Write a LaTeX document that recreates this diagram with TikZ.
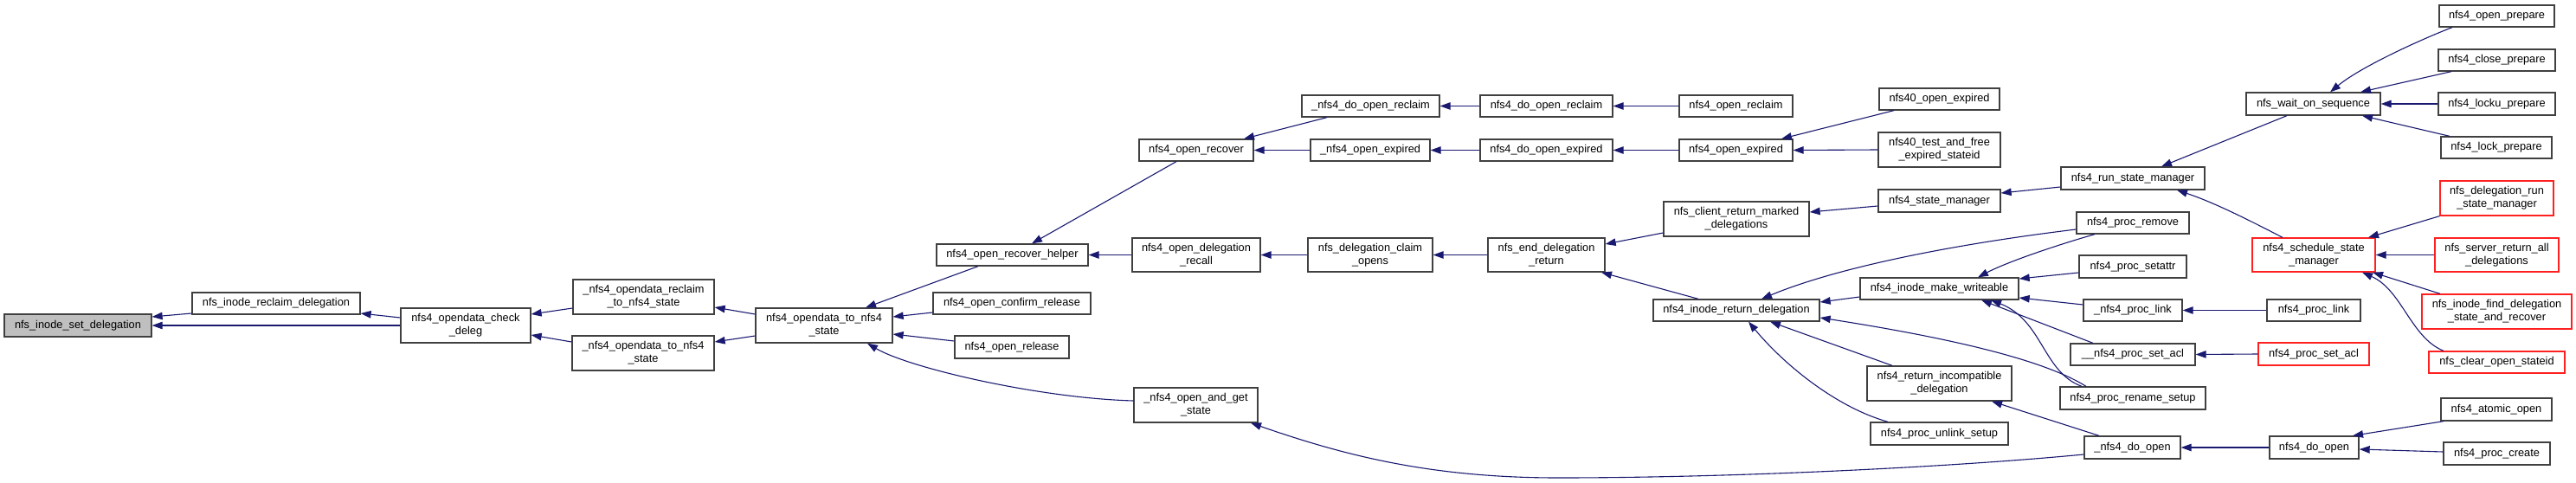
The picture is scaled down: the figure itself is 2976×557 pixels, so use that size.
\documentclass[tikz,border=0pt]{standalone}
\usepackage{fontspec}
\setmainfont{Liberation Sans}
\usetikzlibrary{arrows.meta,calc}
\definecolor{edgeblue}{HTML}{191970}
\definecolor{boxgray}{HTML}{404040}
\definecolor{rootfill}{HTML}{BFBFBF}
\definecolor{trunc}{HTML}{FF2020}
\begin{document}
\begin{tikzpicture}[x=1pt,y=-1pt,
  box/.style={draw=boxgray, line width=1.3pt, fill=white, inner sep=0pt, align=center,
    font=\fontsize{12.8}{15}\selectfont},
  rbox/.style={box, draw=trunc},
  root/.style={box, fill=rootfill},
  edge/.style={draw=edgeblue, line width=1.1pt, -{Triangle[length=12pt,width=8.5pt]}, fill=none}]
\fill[white] (0,0) rectangle (2976,557);
\useasboundingbox (0,0) rectangle (2976,557);
% rank 0-4
\node[root, minimum width=170pt, minimum height=26pt] (set) at (90,376) {nfs\_inode\_set\_delegation};
\node[box, minimum width=194pt, minimum height=25pt] (reclaim) at (319,350.5) {nfs\_inode\_reclaim\_delegation};
\node[box, minimum width=150pt, minimum height=40pt] (check) at (538,376) {nfs4\_opendata\_check\\\_deleg};
\node[box, minimum width=163pt, minimum height=40pt] (odrecl) at (743.5,343) {\_nfs4\_opendata\_reclaim\\\_to\_nfs4\_state};
\node[box, minimum width=164pt, minimum height=40pt] (odto) at (743,408) {\_nfs4\_opendata\_to\_nfs4\\\_state};
\node[box, minimum width=158pt, minimum height=40pt] (odtos) at (952,376) {nfs4\_opendata\_to\_nfs4\\\_state};
% rank 5
\node[box, minimum width=175pt, minimum height=25pt] (rhelp) at (1169.5,294.5) {nfs4\_open\_recover\_helper};
\node[box, minimum width=182pt, minimum height=25pt] (confrel) at (1169,350.5) {nfs4\_open\_confirm\_release};
\node[box, minimum width=132pt, minimum height=26pt] (openrel) at (1169,401) {nfs4\_open\_release};
% rank 6
\node[box, minimum width=132pt, minimum height=25pt] (orecover) at (1382,173.5) {nfs4\_open\_recover};
\node[box, minimum width=148pt, minimum height=39pt] (drecall) at (1382,294.5) {nfs4\_open\_delegation\\\_recall};
\node[box, minimum width=143pt, minimum height=40pt] (andget) at (1381.5,468) {\_nfs4\_open\_and\_get\\\_state};
% rank 7
\node[box, minimum width=159pt, minimum height=25pt] (dorecl_) at (1583.5,122.5) {\_nfs4\_do\_open\_reclaim};
\node[box, minimum width=138pt, minimum height=25pt] (oexp_) at (1583,173.5) {\_nfs4\_open\_expired};
\node[box, minimum width=144pt, minimum height=39pt] (claim) at (1583,294.5) {nfs\_delegation\_claim\\\_opens};
% rank 8
\node[box, minimum width=153pt, minimum height=25pt] (dorecl) at (1786.5,122.5) {nfs4\_do\_open\_reclaim};
\node[box, minimum width=153pt, minimum height=25pt] (doexp) at (1786.5,173.5) {nfs4\_do\_open\_expired};
\node[box, minimum width=135pt, minimum height=39pt] (endret) at (1786.5,294.5) {nfs\_end\_delegation\\\_return};
% rank 9
\node[box, minimum width=131pt, minimum height=25pt] (orecl) at (2005.5,122.5) {nfs4\_open\_reclaim};
\node[box, minimum width=131pt, minimum height=25pt] (oexp) at (2005.5,173.5) {nfs4\_open\_expired};
\node[box, minimum width=168pt, minimum height=40pt] (cliret) at (2006,253) {nfs\_client\_return\_marked\\\_delegations};
\node[box, minimum width=192pt, minimum height=25pt] (iret) at (2006,358.5) {nfs4\_inode\_return\_delegation};
% rank 10
\node[box, minimum width=139pt, minimum height=25pt] (o40exp) at (2240.5,114.5) {nfs40\_open\_expired};
\node[box, minimum width=141pt, minimum height=40pt] (t40) at (2240.5,173) {nfs40\_test\_and\_free\\\_expired\_stateid};
\node[box, minimum width=141pt, minimum height=26pt] (stmgr) at (2240.5,232) {nfs4\_state\_manager};
\node[box, minimum width=183pt, minimum height=25pt] (mkw) at (2240.5,333.5) {nfs4\_inode\_make\_writeable};
\node[box, minimum width=167pt, minimum height=40pt] (incompat) at (2240.5,443) {nfs4\_return\_incompatible\\\_delegation};
\node[box, minimum width=159pt, minimum height=26pt] (unlink) at (2240.5,501) {nfs4\_proc\_unlink\_setup};
% rank 11
\node[box, minimum width=166pt, minimum height=26pt] (runsm) at (2464,206) {nfs4\_run\_state\_manager};
\node[box, minimum width=130pt, minimum height=25pt] (premove) at (2464,257.5) {nfs4\_proc\_remove};
\node[box, minimum width=124pt, minimum height=26pt] (psetattr) at (2464,308) {nfs4\_proc\_setattr};
\node[box, minimum width=114pt, minimum height=25pt] (plink_) at (2464,358.5) {\_nfs4\_proc\_link};
\node[box, minimum width=144pt, minimum height=25pt] (setacl_) at (2464,409.5) {\_\_nfs4\_proc\_set\_acl};
\node[box, minimum width=168pt, minimum height=26pt] (rename) at (2464,460) {nfs4\_proc\_rename\_setup};
\node[box, minimum width=111pt, minimum height=26pt] (doopen_) at (2463.5,517) {\_nfs4\_do\_open};
% rank 12
\node[box, minimum width=155pt, minimum height=26pt] (wait) at (2672.5,120) {nfs\_wait\_on\_sequence};
\node[rbox, minimum width=142pt, minimum height=39pt] (sched) at (2673,294.5) {nfs4\_schedule\_state\\\_manager};
\node[box, minimum width=108pt, minimum height=25pt] (plink) at (2673,358.5) {nfs4\_proc\_link};
\node[rbox, minimum width=128pt, minimum height=26pt] (psetacl) at (2673,409) {nfs4\_proc\_set\_acl};
\node[box, minimum width=103pt, minimum height=26pt] (doopen) at (2673.5,517) {nfs4\_do\_open};
% rank 13
\node[box, minimum width=133pt, minimum height=25pt] (oprep) at (2884.5,18.5) {nfs4\_open\_prepare};
\node[box, minimum width=135pt, minimum height=25pt] (cprep) at (2884.5,69.5) {nfs4\_close\_prepare};
\node[box, minimum width=135pt, minimum height=26pt] (lkuprep) at (2884.5,120) {nfs4\_locku\_prepare};
\node[box, minimum width=128pt, minimum height=25pt] (lkprep) at (2884,170.5) {nfs4\_lock\_prepare};
\node[rbox, minimum width=131pt, minimum height=40pt] (drunsm) at (2884.5,229) {nfs\_delegation\_run\\\_state\_manager};
\node[rbox, minimum width=143pt, minimum height=39pt] (srvall) at (2884.5,294.5) {nfs\_server\_return\_all\\\_delegations};
\node[rbox, minimum width=173pt, minimum height=40pt] (finddel) at (2884.5,360) {nfs\_inode\_find\_delegation\\\_state\_and\_recover};
\node[rbox, minimum width=157pt, minimum height=25pt] (clearst) at (2884.5,418.5) {nfs\_clear\_open\_stateid};
\node[box, minimum width=128pt, minimum height=26pt] (atomic) at (2884,473) {nfs4\_atomic\_open};
\node[box, minimum width=123pt, minimum height=26pt] (pcreate) at (2884.5,524) {nfs4\_proc\_create};
% edges
\draw[edge] (reclaim.west |- 0,362) -- (set.east |- 0,366);
\draw[edge] (check.west |- 0,376) -- (set.east |- 0,376);
\draw[edge] (check.west |- 0,367) -- (reclaim.east |- 0,362);
\draw[edge] (odrecl.west |- 0,356) -- (check.east |- 0,363);
\draw[edge] (odto.west |- 0,395) -- (check.east |- 0,387);
\draw[edge] (odtos.west |- 0,363) -- (odrecl.east |- 0,355);
\draw[edge] (odtos.west |- 0,388) -- (odto.east |- 0,395);
\draw[edge] (rhelp.south -| 1130,0) -- (odtos.north -| 1000,0);
\draw[edge] (confrel.west |- 0,361) -- (odtos.east |- 0,366);
\draw[edge] (openrel.west |- 0,394) -- (odtos.east |- 0,386);
\draw[edge] (andget.west |- 0,463) .. controls (1200,460) and (1050,425) .. (odtos.south -| 1002,0);
\draw[edge] (orecover.south -| 1359,0) -- (rhelp.north -| 1192,0);
\draw[edge] (drecall.west) -- (rhelp.east);
\draw[edge] (dorecl_.south -| 1533,0) -- (orecover.north -| 1437,0);
\draw[edge] (oexp_.west) -- (orecover.east);
\draw[edge] (dorecl.west) -- (dorecl_.east);
\draw[edge] (doexp.west) -- (oexp_.east);
\draw[edge] (orecl.west) -- (dorecl.east);
\draw[edge] (oexp.west) -- (doexp.east);
\draw[edge] (o40exp.south -| 2188,0) -- (oexp.north -| 2058,0);
\draw[edge] (t40.west) -- (oexp.east);
\draw[edge] (claim.west) -- (drecall.east);
\draw[edge] (endret.west) -- (claim.east);
\draw[edge] (cliret.west |- 0,269) -- (endret.east |- 0,282);
\draw[edge] (iret.north -| 1962,0) -- (endret.south -| 1850,0);
\draw[edge] (stmgr.west |- 0,238) -- (cliret.east |- 0,245);
\draw[edge] (runsm.west |- 0,216) -- (stmgr.east |- 0,223);
\draw[edge] (wait.south -| 2642,0) -- (runsm.north -| 2497,0);
\draw[edge] (sched.north -| 2637,0) .. controls (2590,250) and (2555,233) .. (runsm.south -| 2515,0);
\draw[edge] (oprep.south -| 2833,0) .. controls (2808,41) and (2730,75) .. (wait.north -| 2692,0);
\draw[edge] (cprep.south -| 2832,0) -- (wait.north -| 2727,0);
\draw[edge] (lkuprep.west) -- (wait.east);
\draw[edge] (lkprep.north -| 2830,0) -- (wait.south -| 2729,0);
\draw[edge] (drunsm.south west) -- (sched.north -| 2736,0);
\draw[edge] (srvall.west) -- (sched.east);
\draw[edge] (finddel.north -| 2819,0) -- (sched.south -| 2741,0);
\draw[edge] (clearst.north -| 2823,0) .. controls (2785,390) and (2775,335) .. (sched.south -| 2729,0);
\draw[edge] (plink.west) -- (plink_.east);
\draw[edge] (psetacl.west) -- (setacl_.east);
\draw[edge] (doopen.west) -- (doopen_.east);
\draw[edge] (atomic.south -| 2823,0) -- (doopen.north -| 2718,0);
\draw[edge] (pcreate.west |- 0,522) -- (doopen.east |- 0,519);
\draw[edge] (doopen_.west |- 0,525) .. controls (2250,540) and (2000,552) .. (1800,552) .. controls (1650,552) and (1550,525) .. (andget.south -| 1445,0);
\draw[edge] (premove.west |- 0,265) .. controls (2250,283) and (2120,310) .. (iret.north -| 2035,0);
\draw[edge] (mkw.west |- 0,343) -- (iret.east |- 0,349);
\draw[edge] (rename.north -| 2410,0) .. controls (2360,415) and (2250,390) .. (iret.east |- 0,367);
\draw[edge] (rename.north -| 2405,0) .. controls (2360,430) and (2360,370) .. (mkw.south -| 2300,0);
\draw[edge] (premove.south -| 2420,0) .. controls (2380,282) and (2320,302) .. (mkw.north -| 2285,0);
\draw[edge] (psetattr.west |- 0,315) -- (mkw.east |- 0,322);
\draw[edge] (plink_.west |- 0,352) -- (mkw.east |- 0,344);
\draw[edge] (setacl_.north -| 2418,0) -- (mkw.south -| 2289,0);
\draw[edge] (incompat.north -| 2186,0) -- (iret.south -| 2045,0);
\draw[edge] (unlink.north -| 2181,0) .. controls (2120,470) and (2060,420) .. (iret.south -| 2020,0);
\draw[edge] (doopen_.north -| 2425,0) -- (incompat.south -| 2301,0);
\end{tikzpicture}
\end{document}
